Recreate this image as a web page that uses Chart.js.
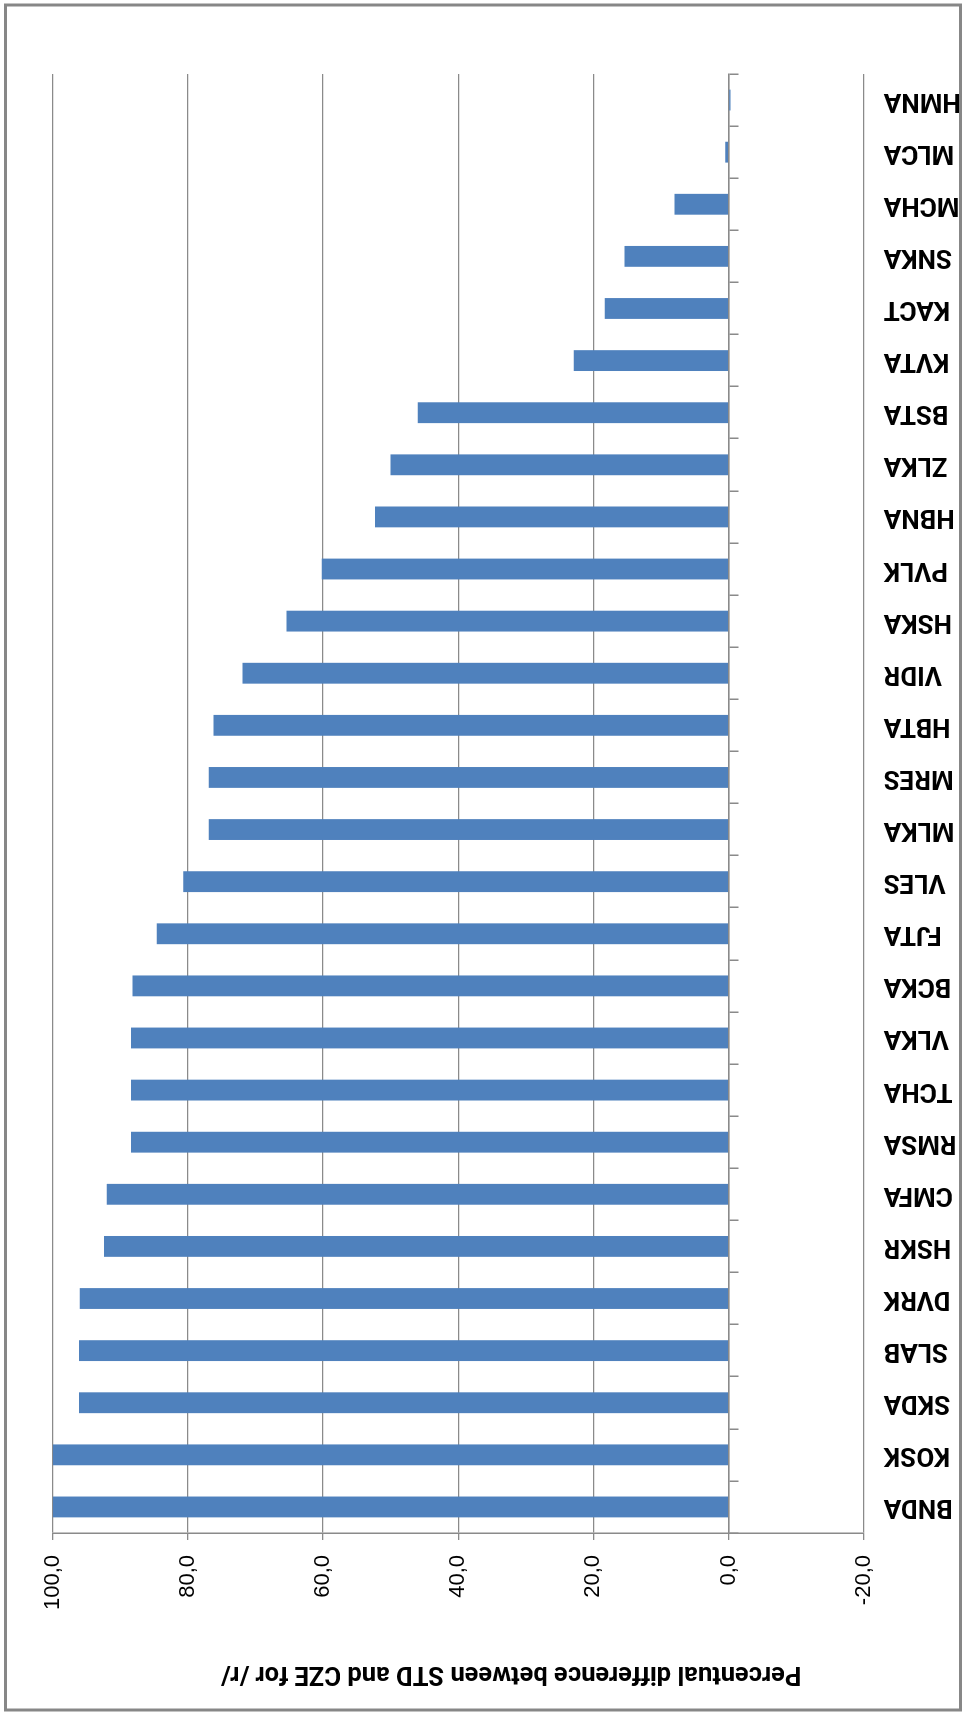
<!DOCTYPE html>
<html>
<head>
<meta charset="utf-8">
<title>Percentual difference between STD and CZE for /r/</title>
<script src="https://cdn.jsdelivr.net/npm/chart.js@4/dist/chart.umd.min.js"></script>
<style>
  html, body { margin: 0; padding: 0; background: #fff; overflow: hidden; }
  #wrap { position: relative; width: 963px; height: 1713px; }
  /* the chart is drawn as a column chart, then turned a quarter left */
  #chart { position: absolute; left: 0; top: 0; transform-origin: 0 0; transform: translateY(1713px) rotate(-90deg); }
</style>
</head>
<body>
<div id="wrap"><canvas id="chart" width="1713" height="963"></canvas></div>
<script>
// --- data ---
const categories = ['BNDA', 'KOSK', 'SKDA', 'SLAB', 'DVRK', 'HSKR', 'CMFA', 'RMSA', 'TCHA', 'VLKA',
  'BCKA', 'FJTA', 'VLES', 'MLKA', 'MRES', 'HBTA', 'VIDR', 'HSKA', 'PVLK', 'HBNA',
  'ZLKA', 'BSTA', 'KVTA', 'KACT', 'SNKA', 'MCHA', 'MLCA', 'HMNA'];
const differences = [100, 100, 96.1, 96.1, 96.0, 92.4, 92.0, 88.4, 88.4, 88.4,
  88.2, 84.6, 80.7, 76.9, 76.9, 76.2, 71.9, 65.4, 60.2, 52.3,
  50.0, 46.0, 22.9, 18.3, 15.4, 8.0, 0.5, -0.3];
const valueTicks = [-20, 0, 20, 40, 60, 80, 100];
const valueTickLabels = ['-20,0', '0,0', '20,0', '40,0', '60,0', '80,0', '100,0'];
const axisTitle = 'Percentual difference between STD and CZE for /r/';

const lineGrey = '#8a8a8a';
const boldFont = "Roboto, 'Liberation Sans', Arial, sans-serif";

// border + rotated axis title
const framePlugin = {
  id: 'frame',
  beforeDraw(chart) {
    const ctx = chart.ctx;
    ctx.save();
    ctx.fillStyle = '#fff';
    ctx.fillRect(0, 0, chart.width, chart.height);
    ctx.strokeStyle = '#878787';
    ctx.lineWidth = 3;
    ctx.strokeRect(3, 5.5, 1705, 955);
    ctx.restore();
  },
  afterDraw(chart) {
    const ctx = chart.ctx;
    ctx.save();
    ctx.translate(46, 511);
    ctx.rotate(-Math.PI / 2);
    ctx.font = 'bold 25.5px ' + boldFont;
    ctx.fillStyle = '#000';
    ctx.textAlign = 'center';
    ctx.textBaseline = 'alphabetic';
    ctx.fillText(axisTitle, 0, 0);
    ctx.restore();
  }
};

Chart.defaults.font.family = "'Liberation Sans', Arial, sans-serif";
Chart.defaults.color = '#000';

const ctx = document.getElementById('chart').getContext('2d');
new Chart(ctx, {
  type: 'bar',
  data: {
    labels: categories,
    datasets: [{
      data: differences,
      backgroundColor: '#4f81bd',
      borderWidth: 0,
      barPercentage: 0.4,
      categoryPercentage: 1
    }]
  },
  options: {
    responsive: false,
    animation: false,
    events: [],
    layout: { padding: { top: 52.7, right: 74, bottom: 0, left: 0 } },
    plugins: { legend: { display: false }, tooltip: { enabled: false } },
    scales: {
      // category axis line sits at value 0, only tick marks
      x: {
        position: { y: 0 },
        offset: true,
        grid: { offset: true, drawOnChartArea: false, drawTicks: true, tickLength: 9, color: lineGrey, lineWidth: 1.5 },
        border: { display: true, color: lineGrey, width: 1.5 },
        ticks: { display: false }
      },
      // labels at the low end of the plot
      x2: {
        type: 'category',
        labels: categories,
        position: 'bottom',
        offset: true,
        grid: { display: false },
        border: { display: false },
        ticks: {
          autoSkip: false, minRotation: 90, maxRotation: 90, padding: 12,
          font: { family: boldFont, size: 26, weight: 'bold' }, color: '#000'
        },
        afterFit(scale) { scale.height = 99.3; }
      },
      y: {
        min: -20,
        max: 100,
        ticks: {
          stepSize: 20, padding: 15,
          font: { size: 22 }, color: '#000',
          callback: (v) => { const i = valueTicks.indexOf(v); return i >= 0 ? valueTickLabels[i] : ''; }
        },
        grid: { color: lineGrey, lineWidth: 1.3, tickLength: 7 },
        border: { display: true, color: lineGrey, width: 1.5 },
        afterFit(scale) { scale.width = 180; }
      }
    }
  },
  plugins: [framePlugin]
});
</script>
</body>
</html>
